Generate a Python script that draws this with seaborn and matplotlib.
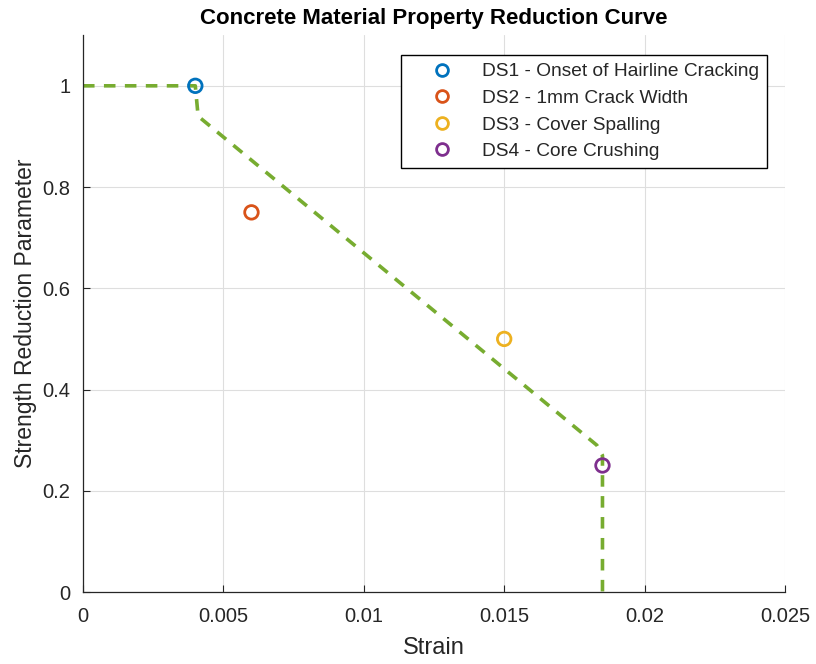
import matplotlib
matplotlib.use("Agg")
import matplotlib.pyplot as plt
import seaborn as sns
import pandas as pd

# Reduction curve (strain vs. strength reduction parameter)
curve_strain = [0.0, 0.004, 0.0041, 0.0183, 0.0185, 0.0185]
curve_factor = [1.0, 1.0, 0.94, 0.29, 0.27, 0.0]

# Damage states
ds_labels = ["DS1 - Onset of Hairline Cracking", "DS2 - 1mm Crack Width",
             "DS3 - Cover Spalling", "DS4 - Core Crushing"]
ds_strain = [0.004, 0.006, 0.015, 0.0185]
ds_factor = [1.0, 0.75, 0.5, 0.25]
ds_colors = ["#0072BD", "#D95319", "#EDB120", "#7E2F8E"]

x_ticks = [0, 0.005, 0.01, 0.015, 0.02, 0.025]
x_ticklabels = ["0", "0.005", "0.01", "0.015", "0.02", "0.025"]
y_ticks = [0, 0.2, 0.4, 0.6, 0.8, 1.0]
y_ticklabels = ["0", "0.2", "0.4", "0.6", "0.8", "1"]

sns.set_style("whitegrid")
plt.rcParams["font.family"] = ["Liberation Sans", "DejaVu Sans"]

fig = plt.figure(figsize=(8.16, 6.64), dpi=100)
ax = fig.add_axes([0.1017, 0.1084, 0.8603, 0.8386])

curve = pd.DataFrame({"strain": curve_strain, "factor": curve_factor})
sns.lineplot(data=curve, x="strain", y="factor", ax=ax, color="#77AC30",
             linewidth=2.6, linestyle=(0, (3.2, 2.6)), sort=False,
             estimator=None, zorder=2)

ds = pd.DataFrame({"strain": ds_strain, "factor": ds_factor, "state": ds_labels})
sns.scatterplot(data=ds, x="strain", y="factor", hue="state",
                palette=dict(zip(ds_labels, ds_colors)), ax=ax,
                marker="o", s=95, facecolors="none", linewidth=2.0,
                zorder=3, legend=False)
# hollow markers: edge takes the hue colour
for coll in ax.collections:
    fc = coll.get_facecolors()
    coll.set_edgecolors(fc)
    coll.set_facecolors("none")

handles = [plt.Line2D([], [], linestyle="none", marker="o", markersize=8.5,
                      markerfacecolor="none", markeredgecolor=c,
                      markeredgewidth=2.0) for c in ds_colors]
leg = ax.legend(handles, ds_labels, loc="upper right",
                bbox_to_anchor=(0.974, 0.964), borderaxespad=0,
                fontsize=13.8, frameon=True, fancybox=False,
                edgecolor="black", framealpha=1,
                handletextpad=0.35, borderpad=0.4, labelspacing=0.48,
                handlelength=3.5)
leg.get_frame().set_linewidth(1.0)
for t in leg.get_texts():
    t.set_color("#262626")

ax.set_xlim(0, 0.025)
ax.set_ylim(0, 1.1)
ax.set_xticks(x_ticks)
ax.set_xticklabels(x_ticklabels)
ax.set_yticks(y_ticks)
ax.set_yticklabels(y_ticklabels)
ax.tick_params(axis="both", direction="in", length=5, width=0.8,
               labelsize=14.5, colors="#262626", bottom=True, left=True)
ax.tick_params(axis="x", pad=11)
ax.tick_params(axis="y", pad=9)
ax.grid(True, color="#dedede", linewidth=0.8)
for side in ["top", "right"]:
    ax.spines[side].set_visible(False)
for side in ["left", "bottom"]:
    ax.spines[side].set_color("#262626")
    ax.spines[side].set_linewidth(0.9)

ax.set_xlabel("Strain", fontsize=17, color="#262626", labelpad=8)
ax.set_ylabel("Strength Reduction Parameter", fontsize=16.5, color="#262626",
              labelpad=4)
ax.set_title("Concrete Material Property Reduction Curve", fontsize=16,
             fontweight="bold", color="black", pad=8)

fig.savefig("out.png", dpi=100)
